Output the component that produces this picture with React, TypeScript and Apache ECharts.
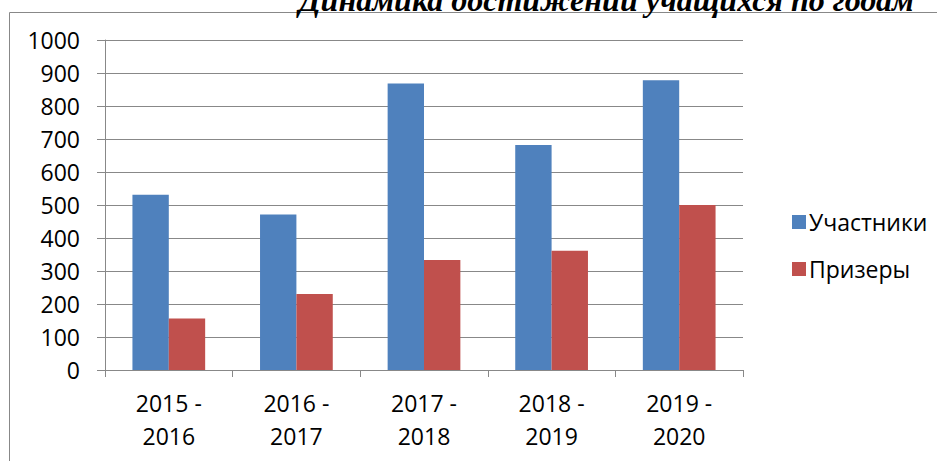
import React, { useEffect, useRef } from "react";
import * as echarts from "echarts";

const categories = ["2015 -\n2016", "2016 -\n2017", "2017 -\n2018", "2018 -\n2019", "2019 -\n2020"];
const participants = [531, 471, 868, 682, 878];
const winners = [156, 230, 333, 361, 500];
const seriesNames = ["Участники", "Призеры"];
const titleText = "Динамика достижений учащихся по годам";

const FONT = "'Open Sans', sans-serif";
const GRAY = "#888888";

export default function App() {
  const ref = useRef<HTMLDivElement>(null);
  useEffect(() => {
    if (!ref.current) return;
    const chart = echarts.init(ref.current, undefined, { renderer: "svg" });
    chart.setOption({
      animation: false,
      backgroundColor: "#ffffff",
      graphic: [
        {
          type: "rect",
          shape: { x: 9.5, y: 12.5, width: 1000, height: 1000 },
          style: { fill: "none", stroke: GRAY, lineWidth: 1 },
          silent: true,
        },
        {
          type: "text",
          x: 914,
          y: 0,
          style: {
            text: titleText,
            font: "italic bold 32px 'Liberation Serif', serif",
            fill: "#000000",
            textAlign: "right",
            textVerticalAlign: "middle",
          },
          silent: true,
        },
      ],
      grid: { left: 105, right: 194, top: 40, bottom: 91 },
      legend: {
        orient: "vertical",
        left: 787,
        top: 205,
        itemWidth: 14,
        itemHeight: 14,
        itemGap: 23,
        icon: "rect",
        textStyle: { fontFamily: FONT, fontSize: 23, color: "#000", lineHeight: 24, padding: [0, 0, 0, -2] },
        data: seriesNames,
      },
      xAxis: {
        type: "category",
        data: categories,
        axisLine: { show: true, lineStyle: { color: GRAY, width: 1 } },
        axisTick: { show: true, length: 7, lineStyle: { color: GRAY } },
        axisLabel: {
          fontFamily: FONT,
          fontSize: 23,
          color: "#000",
          lineHeight: 33,
          margin: 16,
          interval: 0,
        },
      },
      yAxis: {
        type: "value",
        min: 0,
        max: 1000,
        interval: 100,
        axisLine: { show: true, lineStyle: { color: GRAY, width: 1 } },
        axisTick: { show: true, length: 8, lineStyle: { color: GRAY } },
        splitLine: { show: true, lineStyle: { color: GRAY, width: 1 } },
        axisLabel: {
          fontFamily: FONT,
          fontSize: 23,
          color: "#000",
          margin: 25,
          formatter: (v: number) => String(v),
        },
      },
      series: [
        {
          name: seriesNames[0],
          type: "bar",
          data: participants,
          barGap: "0%",
          barCategoryGap: "43%",
          itemStyle: { color: "#4F81BD" },
        },
        {
          name: seriesNames[1],
          type: "bar",
          data: winners,
          barGap: "0%",
          barCategoryGap: "43%",
          itemStyle: { color: "#C0504D" },
        },
      ],
    });
    return () => chart.dispose();
  }, []);
  return (
    <div
      ref={ref}
      style={{ position: "absolute", left: 0, top: 0, width: 937, height: 461 }}
    />
  );
}
